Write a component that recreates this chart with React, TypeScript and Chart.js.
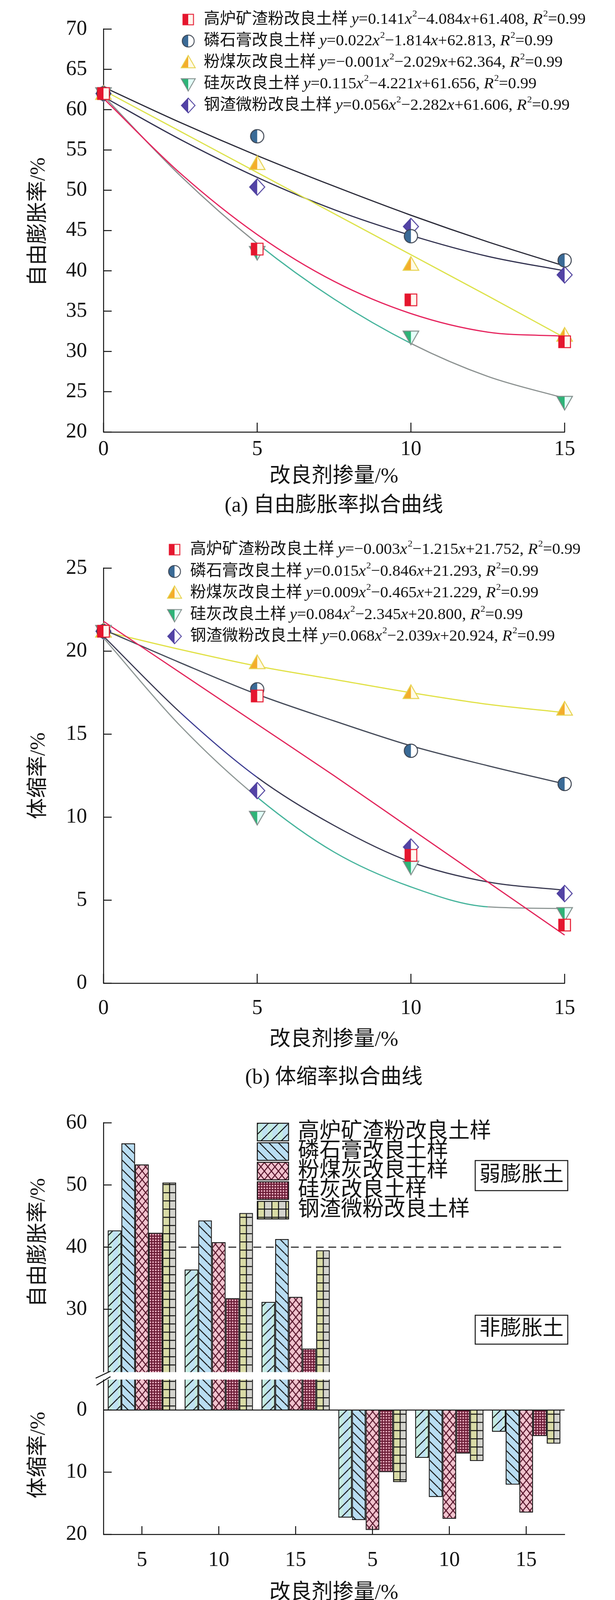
import React, { useEffect, useRef } from 'react';
import { Chart, registerables } from 'chart.js';

Chart.register(...registerables);

const SERIF = "'Liberation Serif', 'Times New Roman', 'Noto Sans CJK SC', serif";
const INK = '#141414';
const TEAL = '#46b49c';

// ---- values ----
const dosage = [0, 5, 10, 15];
const dosageTicks = [0, 5, 10, 15];
const sampleNames = ['高炉矿渣粉改良土样', '磷石膏改良土样', '粉煤灰改良土样', '硅灰改良土样', '钢渣微粉改良土样'];

// free swelling ratio (%)
const swellSlag = [62.0, 42.7, 36.4, 31.2];
const swellGypsum = [62.0, 56.7, 44.3, 41.3];
const swellFlyAsh = [62.0, 53.3, 40.8, 32.0];
const swellSilica = [62.0, 42.3, 31.8, 23.7];
const swellSteel = [62.0, 50.4, 45.5, 39.5];

// shrinkage ratio (%)
const shrinkSlag = [21.2, 17.3, 7.7, 3.5];
const shrinkGypsum = [21.2, 17.7, 14.0, 12.0];
const shrinkFlyAsh = [21.2, 19.3, 17.5, 16.5];
const shrinkSilica = [21.2, 10.0, 7.0, 4.2];
const shrinkSteel = [21.2, 11.6, 8.2, 5.4];

// fitted curves, read at these dosages
const fitDosage = [0, 2.5, 5, 7.5, 10, 12.5, 15];
const swellFitSlag = [61.4, 52.1, 44.5, 38.7, 34.7, 32.4, 31.9];
const swellFitGypsum = [62.8, 58.4, 54.3, 50.5, 46.9, 43.6, 40.6];
const swellFitFlyAsh = [62.4, 57.3, 52.2, 47.1, 42.0, 36.9, 31.7];
const swellFitSilica = [61.7, 51.8, 43.4, 36.5, 31.0, 26.9, 24.2];
const swellFitSteel = [61.6, 56.3, 51.6, 47.6, 44.4, 41.8, 40.0];
const shrinkFitSlag = [21.8, 18.7, 15.6, 12.5, 9.3, 6.1, 2.9];
const shrinkFitGypsum = [21.3, 19.3, 17.4, 15.8, 14.3, 13.1, 12.0];
const shrinkFitFlyAsh = [21.2, 20.1, 19.1, 18.3, 17.5, 16.8, 16.3];
const shrinkFitSilica = [20.8, 15.5, 11.2, 7.9, 5.8, 4.6, 4.5];
const shrinkFitSteel = [20.9, 16.3, 12.4, 9.5, 7.3, 6.1, 5.6];

const swellEquations = [
  'y=0.141x^2−4.084x+61.408, R^2=0.99',
  'y=0.022x^2−1.814x+62.813, R^2=0.99',
  'y=−0.001x^2−2.029x+62.364, R^2=0.99',
  'y=0.115x^2−4.221x+61.656, R^2=0.99',
  'y=0.056x^2−2.282x+61.606, R^2=0.99',
];
const shrinkEquations = [
  'y=−0.003x^2−1.215x+21.752, R^2=0.99',
  'y=0.015x^2−0.846x+21.293, R^2=0.99',
  'y=0.009x^2−0.465x+21.229, R^2=0.99',
  'y=0.084x^2−2.345x+20.800, R^2=0.99',
  'y=0.068x^2−2.039x+20.924, R^2=0.99',
];

const swellTicks = [20, 25, 30, 35, 40, 45, 50, 55, 60, 65, 70];
const shrinkTicks = [0, 5, 10, 15, 20, 25];
const barGroupLabels = ['5', '10', '15', '5', '10', '15'];
const barSwellTicks = [30, 40, 50, 60];
const barShrinkTicks = [0, 10, 20];
const expansiveLimit = 40;
const swellBase = 20; // swelling axis is broken below 20 %
const breakOffset = 6.2;

// ---- styles ----
const markerStyles = [
  { shape: 'rect', size: 30, left: '#e5162e', right: '#fff6ee', stroke: '#e5162e' },
  { shape: 'circle', size: 34, left: '#3a6a96', right: '#ffffff', stroke: '#3b4350' },
  { shape: 'tri', size: 40, left: '#f4ad2b', right: '#fffbe6', stroke: '#e6d24a' },
  { shape: 'triDown', size: 40, left: '#2db478', right: '#e4fff9', stroke: '#7f8b89' },
  { shape: 'diamond', size: 42, left: '#5343a6', right: '#ffffff', stroke: '#4b3d9c' },
];
const swellLineColors = ['#e6245e', '#2a2a38', '#dde24a', '#8b9190', '#323250'];
const shrinkLineColors = ['#e2245a', '#454b59', '#e1e146', '#8f9896', '#3a3a52'];
const TICK_FONT = 54;

function makeMarker(s: any) {
  const pad = 3;
  const cv = document.createElement('canvas');
  cv.width = cv.height = s.size + pad * 2;
  const g = cv.getContext('2d')!;
  const m = cv.width / 2;
  const h = s.size / 2;
  const path = () => {
    g.beginPath();
    if (s.shape === 'rect') g.rect(m - h, m - h, s.size, s.size);
    else if (s.shape === 'circle') g.arc(m, m, h, 0, Math.PI * 2);
    else if (s.shape === 'tri') {
      g.moveTo(m, m - h); g.lineTo(m + h, m + h * 0.75); g.lineTo(m - h, m + h * 0.75); g.closePath();
    } else if (s.shape === 'triDown') {
      g.moveTo(m, m + h); g.lineTo(m + h, m - h * 0.75); g.lineTo(m - h, m - h * 0.75); g.closePath();
    } else {
      g.moveTo(m, m - h); g.lineTo(m + h * 0.92, m); g.lineTo(m, m + h); g.lineTo(m - h * 0.92, m); g.closePath();
    }
  };
  path(); g.fillStyle = s.right; g.fill();
  g.save(); path(); g.clip(); g.fillStyle = s.left; g.fillRect(0, 0, m, cv.height); g.restore();
  path(); g.strokeStyle = s.stroke; g.lineWidth = 2.5; g.stroke();
  return cv;
}

function tile(w: number, h: number, draw: (g: CanvasRenderingContext2D) => void) {
  const cv = document.createElement('canvas');
  cv.width = w; cv.height = h;
  draw(cv.getContext('2d')!);
  return cv;
}

function hatch(g: CanvasRenderingContext2D, w: number, h: number, dir: number, color = INK) {
  g.strokeStyle = color; g.lineWidth = 2.5; g.beginPath();
  for (let k = -1; k <= 1; k++) {
    if (dir > 0) { g.moveTo(k * w, h); g.lineTo(k * w + w, 0); }
    else { g.moveTo(k * w, 0); g.lineTo(k * w + w, h); }
  }
  g.stroke();
}

function barTiles() {
  return [
    tile(26, 26, (g) => { g.fillStyle = '#c4ebe1'; g.fillRect(0, 0, 26, 26); g.fillStyle = '#bfe1f3'; g.fillRect(13, 0, 13, 26); hatch(g, 26, 26, 1); }),
    tile(24, 24, (g) => { g.fillStyle = '#b9ddf2'; g.fillRect(0, 0, 24, 24); hatch(g, 24, 24, -1); }),
    tile(18, 22, (g) => { g.fillStyle = '#f1c3ce'; g.fillRect(0, 0, 18, 22); hatch(g, 18, 22, 1, '#56142a'); hatch(g, 18, 22, -1, '#56142a'); }),
    tile(7, 7, (g) => { g.fillStyle = '#6b1c36'; g.fillRect(0, 0, 7, 7); g.fillStyle = '#e6a9bb'; g.fillRect(2, 2, 4, 4); }),
    tile(36, 21, (g) => {
      g.fillStyle = '#d9dba6'; g.fillRect(0, 0, 18, 21);
      g.fillStyle = '#d3d3cd'; g.fillRect(18, 0, 18, 21);
      g.fillStyle = INK; g.fillRect(0, 0, 2.5, 21); g.fillRect(17, 0, 2.5, 21); g.fillRect(0, 0, 36, 2.5);
    }),
  ];
}

// draws (or only measures) an equation with italic x, y, R and ^2 superscripts
function drawRich(ctx: CanvasRenderingContext2D, s: string, x: number, y: number, size: number, paint = true) {
  let cx = x;
  for (let i = 0; i < s.length; i++) {
    const ch = s[i];
    if (ch === '^') {
      const sup = s[++i];
      ctx.font = `${Math.round(size * 0.58)}px ${SERIF}`;
      if (paint) ctx.fillText(sup, cx + 1, y - size * 0.36);
      cx += ctx.measureText(sup).width + 1;
      continue;
    }
    ctx.font = `${'xyR'.includes(ch) ? 'italic ' : ''}${size}px ${SERIF}`;
    if (paint) ctx.fillText(ch, cx, y);
    cx += ctx.measureText(ch).width;
  }
  return cx - x;
}

function label(ctx: CanvasRenderingContext2D, s: string, x: number, y: number, size: number, rotate = false) {
  ctx.save();
  ctx.fillStyle = INK;
  ctx.font = `${size}px ${SERIF}`;
  ctx.textAlign = 'center';
  ctx.textBaseline = 'middle';
  ctx.translate(x, y);
  if (rotate) ctx.rotate(-Math.PI / 2);
  ctx.fillText(s, 0, 0);
  ctx.restore();
}

function drawInwardTicks(chart: any, lenX: number, lenY: number) {
  const { ctx, scales: { x, y } } = chart;
  ctx.save();
  ctx.strokeStyle = INK;
  ctx.lineWidth = 2.5;
  ctx.beginPath();
  y.ticks.forEach((t: any) => {
    const py = y.getPixelForValue(t.value);
    ctx.moveTo(y.right, py); ctx.lineTo(y.right + lenY, py);
  });
  x.ticks.forEach((_t: any, i: number) => {
    const px = x.getPixelForTick(i);
    ctx.moveTo(px, x.top); ctx.lineTo(px, x.top - lenX);
  });
  ctx.stroke();
  ctx.restore();
}

function axisStyle(values: number[] | null, pad: number) {
  return {
    grid: { display: false, drawTicks: false },
    border: { display: true, color: INK, width: 2.5 },
    ticks: { color: INK, font: { family: SERIF, size: TICK_FONT }, padding: pad, autoSkip: false, maxRotation: 0 },
    afterBuildTicks: values ? (s: any) => { s.ticks = values.map((v) => ({ value: v })); } : undefined,
  };
}

type LinePanel = {
  values: number[][]; fits: number[][]; equations: string[]; colors: string[]; ticks: number[];
  top: number; bottom: number; height: number; labelPad: number;
  legendRows: number[]; markerX: number; textX: number; rowEnds: number[];
  accent: { series: number; segs: number[]; color: string }[];
  yTitle: string; yTitleY: number; xTitleY: number; caption: string; captionY: number;
};

function lineConfig(p: LinePanel) {
  const markers = markerStyles.map(makeMarker);
  const datasets: any[] = [];
  p.fits.forEach((fit, i) => {
    const acc = p.accent.find((a) => a.series === i);
    datasets.push({
      data: fitDosage.map((x, j) => ({ x, y: fit[j] })),
      showLine: true,
      pointRadius: 0,
      borderColor: p.colors[i],
      borderWidth: 3,
      cubicInterpolationMode: 'monotone',
      clip: false,
      order: 1,
      segment: acc
        ? { borderColor: (s: any) => (acc.segs.includes(s.p0DataIndex) ? acc.color : p.colors[i]) }
        : undefined,
    });
  });
  p.values.forEach((vals, i) => {
    datasets.push({
      data: dosage.map((x, j) => ({ x, y: vals[j] })),
      showLine: false,
      pointStyle: markers[i],
      pointRadius: 18,
      clip: false,
      order: 0,
    });
  });

  const decor = {
    id: 'decor',
    afterDraw(chart: any) {
      const ctx: CanvasRenderingContext2D = chart.ctx;
      drawInwardTicks(chart, 24, 21);
      ctx.save();
      ctx.fillStyle = INK;
      ctx.textAlign = 'left';
      ctx.textBaseline = 'middle';
      p.legendRows.forEach((ry, i) => {
        const img = markers[i];
        const s = 0.9;
        ctx.drawImage(img, p.markerX - (img.width * s) / 2, ry - (img.height * s) / 2, img.width * s, img.height * s);
        ctx.font = `41px ${SERIF}`;
        ctx.fillText(sampleNames[i], p.textX, ry);
        const start = p.textX + ctx.measureText(sampleNames[i]).width + 9;
        // fit each equation so the row ends where it does in the figure
        const natural = drawRich(ctx, p.equations[i], 0, 0, 41, false);
        const sx = Math.max(0.8, Math.min(1.12, (p.rowEnds[i] - start) / natural));
        ctx.save();
        ctx.translate(start, ry);
        ctx.scale(sx, 1);
        drawRich(ctx, p.equations[i], 0, 0, 41);
        ctx.restore();
      });
      ctx.restore();
      label(ctx, p.yTitle, 100, p.yTitleY, 54, true);
      label(ctx, '改良剂掺量/%', 855, p.xTitleY, 54);
      label(ctx, p.caption, 855, p.captionY, 54);
    },
  };

  return {
    type: 'scatter',
    data: { datasets },
    options: {
      animation: false,
      responsive: true,
      maintainAspectRatio: false,
      events: [],
      layout: { padding: { top: p.top, right: 129, bottom: 0, left: 0 } },
      plugins: { legend: { display: false }, tooltip: { enabled: false } },
      scales: {
        x: {
          type: 'linear', min: 0, max: 15,
          ...axisStyle(dosageTicks, p.labelPad),
          afterFit: (s: any) => { s.height = p.height - p.bottom; },
        },
        y: {
          type: 'linear', min: p.ticks[0], max: p.ticks[p.ticks.length - 1],
          ...axisStyle(p.ticks, 42),
          afterFit: (s: any) => { s.width = 265; },
        },
      },
    },
    plugins: [decor],
  };
}

const toAxis = (w: number) => w - swellBase + breakOffset;

function barConfig() {
  const tiles = barTiles();
  const swellSets = [swellSlag, swellGypsum, swellFlyAsh, swellSilica, swellSteel];
  const shrinkSets = [shrinkSlag, shrinkGypsum, shrinkFlyAsh, shrinkSilica, shrinkSteel];
  const groupFrac = 0.89;

  const fill = (c: any, i: number) => {
    const chart = c.chart;
    const pat = chart.ctx.createPattern(tiles[i], 'repeat');
    const x = chart.scales.x;
    if (c.type === 'data' && x && isFinite(x.left) && isFinite(x.right)) {
      const catW = (x.right - x.left) / barGroupLabels.length;
      const groupW = catW * groupFrac;
      const left = x.getPixelForValue(c.dataIndex) - groupW / 2 + c.datasetIndex * (groupW / 5);
      if (isFinite(left)) pat.setTransform(new DOMMatrix().translate(left, 0));
    }
    return pat;
  };

  const datasets = sampleNames.map((name, i) => ({
    label: name,
    data: [1, 2, 3].map((j) => toAxis(swellSets[i][j])).concat([1, 2, 3].map((j) => -shrinkSets[i][j])),
    backgroundColor: (c: any) => fill(c, i),
    borderColor: INK,
    borderWidth: 2.5,
    categoryPercentage: groupFrac,
    barPercentage: 1,
  }));

  const yTickValues = barShrinkTicks.map((s) => -s).concat(barSwellTicks.map(toAxis));
  const legendRows = [98, 148, 198, 248, 298];

  const decor = {
    id: 'decor',
    beforeDatasetsDraw(chart: any) {
      const { ctx, chartArea, scales: { y } } = chart;
      const py = y.getPixelForValue(toAxis(expansiveLimit));
      ctx.save();
      ctx.strokeStyle = INK; ctx.lineWidth = 2.5; ctx.setLineDash([20, 12]);
      ctx.beginPath(); ctx.moveTo(chartArea.left, py); ctx.lineTo(chartArea.right, py); ctx.stroke();
      ctx.restore();
    },
    afterDatasetsDraw(chart: any) {
      const { ctx, chartArea, scales: { y } } = chart;
      const p0 = y.getPixelForValue(0);
      ctx.save();
      ctx.strokeStyle = INK; ctx.lineWidth = 2.5;
      ctx.beginPath(); ctx.moveTo(chartArea.left, p0); ctx.lineTo(chartArea.right, p0); ctx.stroke();
      // axis break band
      const bTop = y.getPixelForValue(breakOffset - 0.1);
      const bBot = y.getPixelForValue(breakOffset - 1.3);
      ctx.fillStyle = '#ffffff';
      ctx.fillRect(chartArea.left - 4, bTop, chartArea.right - chartArea.left + 4, bBot - bTop);
      const c = (bTop + bBot) / 2;
      ctx.beginPath();
      ctx.moveTo(245, c + 6); ctx.lineTo(283, c - 12);
      ctx.moveTo(247, c + 24); ctx.lineTo(283, c + 2);
      ctx.stroke();
      ctx.restore();
    },
    afterDraw(chart: any) {
      const ctx: CanvasRenderingContext2D = chart.ctx;
      drawInwardTicks(chart, 21, 21);
      ctx.save();
      legendRows.forEach((ry, i) => {
        const pat = ctx.createPattern(tiles[i], 'repeat')!;
        pat.setTransform(new DOMMatrix().translate(659, 0));
        ctx.fillStyle = pat;
        ctx.fillRect(659, ry - 22.5, 80, 45);
        ctx.strokeStyle = INK; ctx.lineWidth = 2.5;
        ctx.strokeRect(659, ry - 22.5, 80, 45);
        ctx.fillStyle = INK; ctx.font = `55px ${SERIF}`; ctx.textAlign = 'left'; ctx.textBaseline = 'middle';
        ctx.fillText(sampleNames[i], 763, ry);
      });
      ctx.strokeStyle = INK; ctx.lineWidth = 2.5;
      ctx.strokeRect(1217, 171, 237, 77);
      ctx.strokeRect(1217, 567, 237, 74);
      ctx.restore();
      label(ctx, '弱膨胀土', 1335.5, 209.5, 54);
      label(ctx, '非膨胀土', 1335.5, 604, 54);
      label(ctx, '自由膨胀率/%', 100, 381, 54, true);
      label(ctx, '体缩率/%', 100, 925, 54, true);
      label(ctx, '改良剂掺量/%', 855, 1279, 54);
      label(ctx, '(c) 自由膨胀率及体缩率', 855, 1374, 54);
    },
  };

  return {
    type: 'bar',
    data: { labels: barGroupLabels, datasets },
    options: {
      animation: false,
      responsive: true,
      maintainAspectRatio: false,
      events: [],
      layout: { padding: { top: 66, right: 129, bottom: 0, left: 0 } },
      plugins: { legend: { display: false }, tooltip: { enabled: false } },
      scales: {
        x: {
          type: 'category',
          ...axisStyle(null, 34),
          afterFit: (s: any) => { s.height = 1422 - 1128; },
        },
        y: {
          type: 'linear', min: -20, max: toAxis(60),
          ...axisStyle(yTickValues, 42),
          ticks: {
            color: INK, font: { family: SERIF, size: TICK_FONT }, padding: 42, autoSkip: false,
            callback: (v: number) => (v >= breakOffset - 0.01 ? String(Math.round(v + swellBase - breakOffset)) : String(Math.abs(Math.round(v)))),
          },
          afterFit: (s: any) => { s.width = 265; },
        },
      },
    },
    plugins: [decor],
  };
}

const swellPanel: LinePanel = {
  values: [swellSlag, swellGypsum, swellFlyAsh, swellSilica, swellSteel],
  fits: [swellFitSlag, swellFitGypsum, swellFitFlyAsh, swellFitSilica, swellFitSteel],
  equations: swellEquations,
  colors: swellLineColors,
  ticks: swellTicks,
  top: 41, bottom: 1106, height: 1350, labelPad: 12,
  legendRows: [50, 105, 160, 215, 270], markerX: 482, textX: 522,
  rowEnds: [1500, 1416, 1441, 1374, 1459],
  accent: [{ series: 3, segs: [2, 3], color: TEAL }],
  yTitle: '自由膨胀率/%', yTitleY: 568, xTitleY: 1221,
  caption: '(a) 自由膨胀率拟合曲线', captionY: 1296,
};

const shrinkPanel: LinePanel = {
  values: [shrinkSlag, shrinkGypsum, shrinkFlyAsh, shrinkSilica, shrinkSteel],
  fits: [shrinkFitSlag, shrinkFitGypsum, shrinkFitFlyAsh, shrinkFitSilica, shrinkFitSteel],
  equations: shrinkEquations,
  colors: shrinkLineColors,
  ticks: shrinkTicks,
  top: 104.5, bottom: 1167, height: 1450, labelPad: 32,
  legendRows: [57, 113, 168, 224, 279], markerX: 447, textX: 487,
  rowEnds: [1487, 1379, 1379, 1339, 1421],
  accent: [
    { series: 3, segs: [2, 3, 4], color: TEAL },
    { series: 4, segs: [1], color: '#3d3d92' },
  ],
  yTitle: '体缩率/%', yTitleY: 636, xTitleY: 1313,
  caption: '(b) 体缩率拟合曲线', captionY: 1410,
};

const Panel: React.FC<{ top: number; height: number; build: () => any }> = ({ top, height, build }) => {
  const canvasRef = useRef<HTMLCanvasElement>(null);
  useEffect(() => {
    if (!canvasRef.current) return;
    const ctx = canvasRef.current.getContext('2d');
    if (!ctx) return;
    const chart = new Chart(ctx, build());
    return () => chart.destroy();
  }, [build]);
  return (
    <div style={{ position: 'absolute', left: 0, top, width: 1575, height }}>
      <canvas ref={canvasRef} />
    </div>
  );
};

const buildSwell = () => lineConfig(swellPanel);
const buildShrink = () => lineConfig(shrinkPanel);

export default function App() {
  return (
    <div style={{ position: 'absolute', left: 0, top: 0, width: 1575, height: 4222, background: '#ffffff' }}>
      <Panel top={0} height={1350} build={buildSwell} />
      <Panel top={1350} height={1450} build={buildShrink} />
      <Panel top={2800} height={1422} build={barConfig} />
    </div>
  );
}
